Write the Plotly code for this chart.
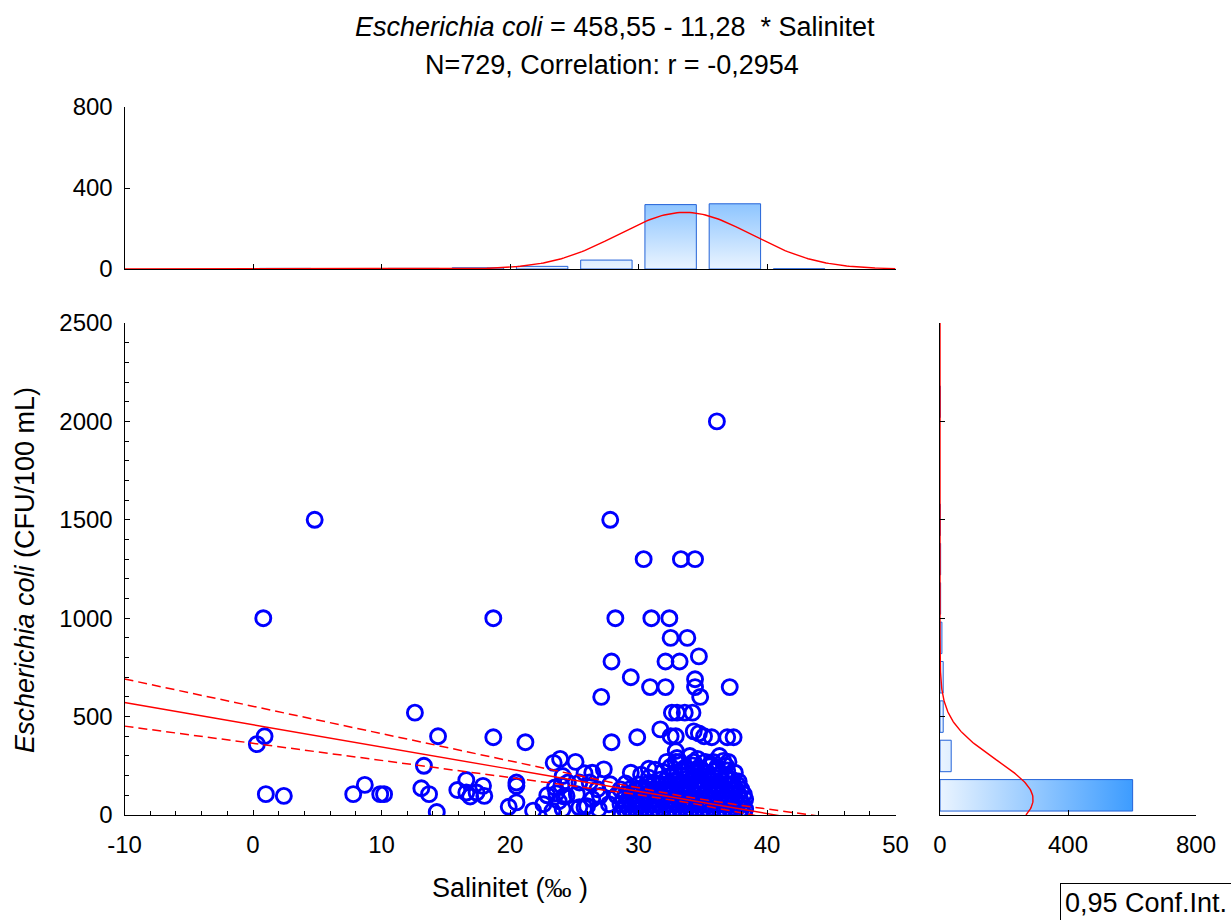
import numpy as np
import plotly.graph_objects as go

# ---------------- data ----------------
# scatter points (Salinitet, E. coli)
sal_high = [36.1, 4.8, 27.8, 30.4, 33.3, 34.4, 0.8, 18.7, 28.2, 31.0, 32.4, 32.5, 33.8, 27.9, 32.1,
            33.2, 34.7, 29.4, 30.9, 32.1, 37.1, 34.4, 34.4, 27.1, 34.8, 12.6, 32.6, 33.0, 33.6, 34.2]
eco_high = [2000, 1500, 1500, 1300, 1300, 1300, 1000, 1000, 1000, 1000, 1000, 900, 900, 780, 780,
            780, 806, 700, 650, 650, 650, 690, 650, 600, 600, 520, 520, 520, 520, 520]

sal_mid = [31.7, 14.4, 18.7, 21.2, 27.9, 29.9, 32.5, 32.9, 34.3, 34.7, 35.1, 35.7, 36.9, 37.4, 32.9,
           0.9, 0.3, 13.3, 32.2, 32.9, 33.2, 34.3, 35.2, 35.8, 37.0, 23.4, 23.9, 25.1, 34.0, 36.3]
eco_mid = [435, 400, 395, 370, 370, 395, 400, 400, 425, 415, 400, 395, 395, 395, 325,
           400, 360, 250, 270, 270, 270, 270, 270, 270, 270, 265, 285, 270, 300, 300]

sal_low = [1.0, 2.4, 7.8, 8.7, 9.9, 10.2, 13.1, 13.7, 14.3, 15.9, 16.6, 16.6, 16.9, 17.4, 17.9,
           18.0, 19.9, 20.5, 20.5, 20.5, 21.8, 22.6, 23.5, 23.6, 24.0, 23.8, 24.2, 24.1, 24.4, 25.2,
           25.4, 25.8, 26.4, 26.8, 27.0, 26.9, 27.7, 27.8, 26.2, 25.4, 24.1, 24.5, 25.8, 26.4, 27.3,
           29.4, 30.8, 22.9, 23.3, 26.0]
eco_low = [106, 97, 106, 153, 106, 106, 136, 106, 15, 127, 178, 114, 94, 114, 148,
           97, 42, 64, 165, 148, 22, 55, 140, 110, 150, 70, 95, 30, 97, 106,
           39, 39, 81, 131, 97, 30, 55, 156, 165, 165, 198, 165, 212, 215, 232,
           215, 235, 100, 20, 45]

sal_upper = [30.8, 31.7, 32.4, 32.9, 33.3, 33.8, 34.2, 34.6, 35.1, 35.5, 35.9, 36.4, 36.8, 37.3, 37.8,
             31.9, 32.8, 33.5, 33.9, 34.4, 34.9, 35.4, 35.9, 36.4, 36.9, 37.5,
             32.5, 33.6, 34.2, 34.8, 35.5, 36.1, 36.8, 29.0, 28.6, 28.3,
             33.0, 34.6, 35.6, 36.6, 31.3, 30.2]
eco_upper = [190, 180, 195, 175, 200, 185, 190, 178, 195, 182, 190, 176, 188, 180, 170,
             220, 212, 225, 208, 218, 230, 214, 222, 210, 226, 215,
             245, 240, 252, 238, 248, 242, 250, 160, 130, 100,
             290, 285, 260, 275, 230, 205]

# dense cluster: E. coli level of each row and the salinity values seen on it
dense_levels = [5, 30, 55, 80, 105, 130, 155]
dense_sal = [
    [28.7, 29.1, 29.6, 30.0, 30.4, 30.9, 31.3, 31.7, 32.2, 32.6, 33.0, 33.5, 33.9, 34.3, 34.8, 35.2, 35.6, 36.1, 36.5, 36.9, 37.4, 37.8, 38.2],
    [28.9, 29.3, 29.8, 30.2, 30.6, 31.1, 31.5, 31.9, 32.4, 32.8, 33.2, 33.7, 34.1, 34.5, 35.0, 35.4, 35.8, 36.3, 36.7, 37.1, 37.6, 38.0, 38.3],
    [28.6, 29.0, 29.5, 29.9, 30.3, 30.8, 31.2, 31.6, 32.1, 32.5, 32.9, 33.4, 33.8, 34.2, 34.7, 35.1, 35.5, 36.0, 36.4, 36.8, 37.3, 37.7, 38.1],
    [28.8, 29.2, 29.7, 30.1, 30.5, 31.0, 31.4, 31.8, 32.3, 32.7, 33.1, 33.6, 34.0, 34.4, 34.9, 35.3, 35.7, 36.2, 36.6, 37.0, 37.5, 37.9, 38.3],
    [29.0, 29.5, 29.9, 30.4, 30.8, 31.3, 31.7, 32.1, 32.6, 33.0, 33.4, 33.9, 34.3, 34.7, 35.2, 35.6, 36.0, 36.5, 36.9, 37.3, 37.8, 38.2],
    [29.3, 29.8, 30.2, 30.7, 31.1, 31.5, 32.0, 32.4, 32.8, 33.3, 33.7, 34.1, 34.6, 35.0, 35.4, 35.9, 36.3, 36.7, 37.2, 37.6, 38.0],
    [30.0, 30.6, 31.2, 31.6, 32.1, 32.5, 33.0, 33.4, 33.8, 34.3, 34.7, 35.1, 35.6, 36.0, 36.4, 36.9, 37.3, 37.7],
]

# top histogram (Salinitet), bins of 5
sal_bin_edges = [-10, -5, 0, 5, 10, 15, 20, 25, 30, 35, 40, 45, 50]
sal_counts = [0, 0, 3, 1, 3, 6, 13, 44, 318, 322, 1, 0]

# right histogram (E. coli), bins of 200
eco_bin_edges = [0, 200, 400, 600, 800, 1000, 1200, 1400, 1600, 1800, 2000, 2200, 2400]
eco_counts = [602, 35, 10, 10, 6, 2, 2, 1, 0, 0, 1, 0]

# regression statistics
N = 729
intercept = 458.55
slope = -11.28
sal_mean, sal_sd = 33.6, 5.2
eco_mean, eco_sd = 79.6, 200.0
resid_se = 195.0
t_crit = 1.963

x_ticks = [-10, 0, 10, 20, 30, 40, 50]
x_tick_text = ["-10", "0", "10", "20", "30", "40", "50"]
y_ticks = [0, 500, 1000, 1500, 2000, 2500]
hist_ticks = [0, 400, 800]

# ---------------- build ----------------
sal_all = sal_high + sal_mid + sal_low + sal_upper
eco_all = eco_high + eco_mid + eco_low + eco_upper
for lvl, row in zip(dense_levels, dense_sal):
    sal_all += row
    eco_all += [lvl] * len(row)

W, H = 1231, 920
FONT = "Liberation Sans, Arial, sans-serif"
RED = "#ff0000"
BLUE = "#0000ff"
EDGE = "#2463d8"
GRAD = [[0, "#eaf4ff"], [1, "#2f95ff"]]

def fx(p):
    return p / W

def fy(p):
    return 1 - p / H

fig = go.Figure()

# scatter
fig.add_trace(go.Scatter(
    x=sal_all, y=eco_all, mode="markers", xaxis="x", yaxis="y",
    marker=dict(symbol="circle-open", size=15, color=BLUE, line=dict(width=2.9, color=BLUE)),
    cliponaxis=True, hoverinfo="skip"))

# regression + confidence band
xs = np.linspace(-10, 50, 301)
fit = intercept + slope * xs
se = resid_se * np.sqrt(1.0 / N + (xs - sal_mean) ** 2 / ((N - 1) * sal_sd ** 2))
fig.add_trace(go.Scatter(x=xs, y=fit, mode="lines", line=dict(color=RED, width=1.4),
                         xaxis="x", yaxis="y", hoverinfo="skip"))
for sgn in (1, -1):
    fig.add_trace(go.Scatter(x=xs, y=fit + sgn * t_crit * se, mode="lines",
                             line=dict(color=RED, width=1.5, dash="9px,5px"),
                             xaxis="x", yaxis="y", hoverinfo="skip"))

# top histogram bars
bx, by = [], []
for i, c in enumerate(sal_counts):
    if c <= 0:
        continue
    lo, hi = sal_bin_edges[i], sal_bin_edges[i + 1]
    w = (hi - lo) * 0.8
    m = (lo + hi) / 2
    bx += [m - w / 2, m - w / 2, m + w / 2, m + w / 2, m - w / 2, None]
    by += [0, c, c, 0, 0, None]
fig.add_trace(go.Scatter(x=bx, y=by, mode="lines", fill="toself",
                         fillgradient=dict(type="vertical", colorscale=GRAD, start=0, stop=650),
                         line=dict(color=EDGE, width=1), xaxis="x2", yaxis="y2", hoverinfo="skip"))
xn = np.linspace(-10, 50, 301)
binw = sal_bin_edges[1] - sal_bin_edges[0]
yn = N * binw / (sal_sd * np.sqrt(2 * np.pi)) * np.exp(-0.5 * ((xn - sal_mean) / sal_sd) ** 2)
fig.add_trace(go.Scatter(x=xn, y=yn, mode="lines", line=dict(color=RED, width=1.4),
                         xaxis="x2", yaxis="y2", hoverinfo="skip"))

# right histogram bars
rx, ry = [], []
for i, c in enumerate(eco_counts):
    if c <= 0:
        continue
    lo, hi = eco_bin_edges[i], eco_bin_edges[i + 1]
    h = (hi - lo) * 0.8
    m = (lo + hi) / 2
    ry += [m - h / 2, m - h / 2, m + h / 2, m + h / 2, m - h / 2, None]
    rx += [0, c, c, 0, 0, None]
fig.add_trace(go.Scatter(x=rx, y=ry, mode="lines", fill="toself",
                         fillgradient=dict(type="horizontal", colorscale=GRAD, start=0, stop=650),
                         line=dict(color=EDGE, width=1), xaxis="x3", yaxis="y3", hoverinfo="skip"))
yr = np.linspace(0, 2500, 401)
binh = eco_bin_edges[1] - eco_bin_edges[0]
xr = N * binh / (eco_sd * np.sqrt(2 * np.pi)) * np.exp(-0.5 * ((yr - eco_mean) / eco_sd) ** 2)
fig.add_trace(go.Scatter(x=xr, y=yr, mode="lines", line=dict(color=RED, width=1.4),
                         xaxis="x3", yaxis="y3", hoverinfo="skip"))

# ---------------- layout ----------------
TICKF = dict(family=FONT, size=24, color="black")
common = dict(showline=True, linecolor="black", linewidth=1, showgrid=False, zeroline=False,
              ticks="inside", ticklen=5, tickcolor="black", tickwidth=1, tickfont=TICKF,
              automargin=False)

main_x = [fx(124.5), fx(895.5)]
main_y = [fy(815), fy(323)]
top_y = [fy(269), fy(107)]
right_x = [fx(940), fx(1196)]

fig.update_layout(
    width=W, height=H, autosize=False,
    margin=dict(l=0, r=0, t=0, b=0, pad=0),
    paper_bgcolor="white", plot_bgcolor="white", showlegend=False,
    font=dict(family=FONT, size=24, color="black"),
    xaxis=dict(domain=main_x, range=[-10, 50], anchor="y", tickmode="array", tickvals=x_ticks,
               ticktext=x_tick_text, ticklabelstandoff=8,
               minor=dict(tickmode="array", tickvals=[v for v in range(-10, 51, 2)], ticks="inside",
                          ticklen=4, tickcolor="black"), **common),
    yaxis=dict(domain=main_y, range=[0, 2500], anchor="x", tickmode="array", tickvals=y_ticks,
               ticklabelstandoff=6,
               minor=dict(tickmode="array", tickvals=[v for v in range(0, 2501, 100)], ticks="inside",
                          ticklen=4, tickcolor="black"), **common),
    xaxis2=dict(domain=main_x, range=[-10, 50], anchor="y2", tickmode="array", tickvals=x_ticks,
                showticklabels=False, **common),
    yaxis2=dict(domain=top_y, range=[0, 800], anchor="x2", tickmode="array", tickvals=hist_ticks,
                ticklabelstandoff=6, **common),
    xaxis3=dict(domain=right_x, range=[0, 800], anchor="y3", tickmode="array", tickvals=hist_ticks,
                ticklabelstandoff=8, **common),
    yaxis3=dict(domain=main_y, range=[0, 2500], anchor="x3", tickmode="array", tickvals=y_ticks,
                showticklabels=False, **common),
)

TXT = dict(family=FONT, size=27, color="black")
fig.add_annotation(x=fx(615), y=fy(27), xref="paper", yref="paper", showarrow=False,
                   text="<i>Escherichia coli</i> = 458,55 - 11,28 &nbsp;* Salinitet", font=TXT,
                   xanchor="center", yanchor="middle")
fig.add_annotation(x=fx(612), y=fy(65), xref="paper", yref="paper", showarrow=False,
                   text="N=729, Correlation: r = -0,2954", font=TXT,
                   xanchor="center", yanchor="middle")
fig.add_annotation(x=fx(510), y=fy(888), xref="paper", yref="paper", showarrow=False,
                   text="Salinitet (<span style='font-family:Liberation Serif'>‰</span> )", font=TXT,
                   xanchor="center", yanchor="middle")
fig.add_annotation(x=fx(25), y=fy(570), xref="paper", yref="paper", showarrow=False,
                   text="<i>Escherichia coli</i> (CFU/100 mL)", font=TXT, textangle=-90,
                   xanchor="center", yanchor="middle")
fig.add_annotation(x=fx(1060), y=fy(903), xref="paper", yref="paper", showarrow=False,
                   text="0,95 Conf.Int.", font=TXT, xanchor="left", yanchor="middle",
                   bordercolor="black", borderwidth=1, borderpad=4, bgcolor="white")

fig.write_html("out.html", config={"displayModeBar": False},
               post_script="document.body.style.margin='0px';")
